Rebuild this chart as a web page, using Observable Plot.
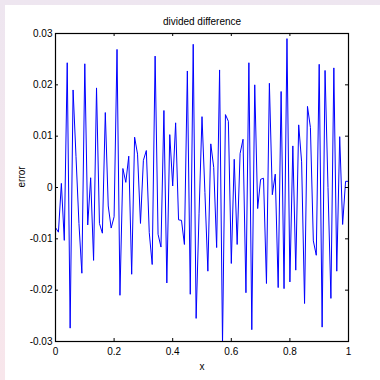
<!DOCTYPE html>
<html><head><meta charset="utf-8">
<script src="https://cdn.jsdelivr.net/npm/d3@7"></script>
<script src="https://cdn.jsdelivr.net/npm/@observablehq/plot@0.6"></script>
<style>
html,body{margin:0;padding:0;}
body{width:380px;height:380px;background:linear-gradient(#eee6f0,#f8e6eb);position:relative;overflow:hidden;}
#paper{position:absolute;left:5px;top:5px;width:375px;height:375px;background:#fff;}
#chart{position:absolute;left:0;top:0;}
</style></head><body><div id="paper"></div><div id="chart"></div>
<script>
const xs = [0,0.01,0.02,0.03,0.04,0.05,0.06,0.07,0.08,0.09,
 0.10,0.11,0.12,0.13,0.14,0.15,0.16,0.17,0.18,0.19,
 0.20,0.21,0.22,0.23,0.24,0.25,0.26,0.27,0.28,0.29,
 0.30,0.31,0.32,0.33,0.34,0.35,0.36,0.37,0.38,0.39,
 0.40,0.41,0.42,0.43,0.44,0.45,0.46,0.47,0.48,0.49,
 0.50,0.51,0.52,0.53,0.54,0.55,0.56,0.57,0.58,0.59,
 0.60,0.61,0.62,0.63,0.64,0.65,0.66,0.67,0.68,0.69,
 0.70,0.71,0.72,0.73,0.74,0.75,0.76,0.77,0.78,0.79,
 0.80,0.81,0.82,0.83,0.84,0.85,0.86,0.87,0.88,0.89,
 0.90,0.91,0.92,0.93,0.94,0.95,0.96,0.97,0.98,0.99,1];
const errors = [-0.0078,-0.0087,0.0008,-0.0103,0.0243,-0.0274,0.0190,0.0060,-0.0070,-0.0167,
 0.0241,-0.0073,0.0019,-0.0142,0.0194,-0.0070,-0.0089,0.0146,-0.0036,-0.0079,
 -0.0057,0.0269,-0.0210,0.0037,0.0010,0.0061,-0.0169,0.0098,0.0065,-0.0070,
 0.0053,0.0072,-0.0088,-0.0150,0.0256,-0.0091,-0.0116,0.0150,-0.0186,0.0103,
 0.0003,0.0126,-0.0063,-0.0064,-0.0111,0.0227,-0.0208,0.0279,-0.0255,-0.0050,
 0.0138,-0.0010,-0.0163,0.0085,0.0039,-0.0117,0.0229,-0.0305,0.0142,0.0129,
 -0.0148,0.0055,-0.0111,0.0066,0.0094,-0.0205,0.0243,-0.0277,0.0200,-0.0041,
 0.0016,0.0018,-0.0187,0.0203,-0.0014,0.0026,-0.0195,0.0187,-0.0197,0.0290,
 -0.0184,0.0081,-0.0161,0.0122,0.0050,-0.0226,0.0158,0.0117,-0.0104,-0.0132,
 0.0240,-0.0272,0.0228,0.0000,-0.0216,0.0233,-0.0163,0.0099,-0.0072,0.0012,0.0012];
const xTicks = [0,0.2,0.4,0.6,0.8,1];
const xTickLabels = ["0","0.2","0.4","0.6","0.8","1"];
const yTicks = [-0.03,-0.02,-0.01,0,0.01,0.02,0.03];
const yTickLabels = ["-0.03","-0.02","-0.01","0","0.01","0.02","0.03"];
const titleText = "divided difference";
const xLabel = "x";
const yLabel = "error";

const data = xs.map((x,i)=>({x, e: errors[i]}));
const xFmt = new Map(xTicks.map((t,i)=>[t,xTickLabels[i]]));
const yFmt = new Map(yTicks.map((t,i)=>[t,yTickLabels[i]]));

const W=380,H=380,mL=55,mR=32,mT=33,mB=39;
const fw=W-mL-mR, fh=H-mT-mB, tk=3;

const chart = Plot.plot({
  width:W, height:H, marginLeft:mL, marginRight:mR, marginTop:mT, marginBottom:mB,
  style:{background:"transparent", fontFamily:"'Liberation Sans Narrow','Liberation Sans',Arial,sans-serif", fontSize:"10px", color:"#000", overflow:"visible"},
  x:{domain:[0,1]},
  y:{domain:[-0.03,0.03]},
  marks:[
    Plot.line(data,{x:"x",y:"e",stroke:"#0000ff",strokeWidth:1,clip:true}),
    Plot.frame({stroke:"#000",strokeWidth:1.2}),
    Plot.tickX(xTicks,{x:d=>d,insetTop:fh-tk,stroke:"#000"}),
    Plot.tickX(xTicks,{x:d=>d,insetBottom:fh-tk,stroke:"#000"}),
    Plot.tickY(yTicks,{y:d=>d,insetRight:fw-tk,stroke:"#000"}),
    Plot.tickY(yTicks,{y:d=>d,insetLeft:fw-tk,stroke:"#000"}),
    Plot.axisX(xTicks,{tickSize:0,tickPadding:6,tickFormat:d=>xFmt.get(d),label:null}),
    Plot.axisY(yTicks,{tickSize:0,tickPadding:3,tickFormat:d=>yFmt.get(d),label:null}),
    Plot.text([titleText],{frameAnchor:"top",dy:-9,lineAnchor:"bottom",fontSize:10}),
    Plot.text([xLabel],{frameAnchor:"bottom",dy:25,lineAnchor:"middle",fontSize:10}),
    Plot.text([yLabel],{frameAnchor:"left",dx:-34,rotate:-90,lineAnchor:"middle",fontSize:10})
  ]
});
document.getElementById("chart").appendChild(chart);
</script></body></html>
